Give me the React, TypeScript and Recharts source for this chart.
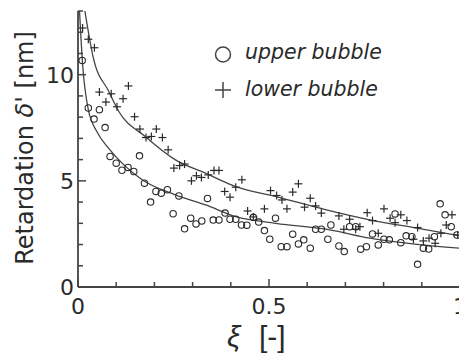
import { ComposedChart, Scatter, Line, XAxis, YAxis } from "recharts";

// upper bubble (circles)
const UPPER_XI = [
  0.011, 0.027, 0.042, 0.056, 0.071, 0.084, 0.1, 0.115, 0.131, 0.146, 0.161, 0.174, 0.19, 0.204, 0.218,
  0.234, 0.249, 0.264, 0.279, 0.295, 0.309, 0.324, 0.339, 0.354, 0.369, 0.385, 0.398, 0.413, 0.428,
  0.442, 0.459, 0.473, 0.488, 0.502, 0.517, 0.532, 0.547, 0.562, 0.577, 0.591, 0.608, 0.622, 0.637,
  0.654, 0.662, 0.683, 0.697, 0.711, 0.727, 0.74, 0.755, 0.771, 0.786, 0.801, 0.815, 0.83, 0.845,
  0.859, 0.874, 0.889, 0.904, 0.918, 0.933, 0.948, 0.961, 0.977, 0.992,
];
const UPPER_DELTA = [
  10.67, 8.43, 7.91, 8.35, 7.51, 6.15, 5.83, 5.5, 5.63, 5.44, 6.18, 4.89, 4.0, 4.5, 4.42,
  4.58, 3.45, 4.29, 2.74, 3.24, 2.97, 3.11, 4.17, 3.15, 3.16, 3.48, 3.19, 3.19, 2.92,
  2.91, 3.28, 3.06, 2.66, 2.25, 3.24, 1.9, 1.9, 2.49, 2.03, 2.22, 1.83, 2.72, 2.72,
  2.25, 2.92, 1.93, 1.67, 2.84, 2.84, 1.78, 1.9, 2.5, 1.98, 2.25, 2.22, 3.44, 2.09,
  2.41, 2.37, 1.07, 1.83, 1.79, 2.37, 3.92, 3.4, 2.84, 2.45,
];

// lower bubble (plus)
const LOWER_XI = [
  0.012, 0.027, 0.043, 0.056, 0.073, 0.087, 0.102, 0.118, 0.132, 0.148, 0.162, 0.178, 0.192, 0.205,
  0.221, 0.236, 0.251, 0.266, 0.279, 0.297, 0.31, 0.323, 0.341, 0.356, 0.369, 0.384, 0.398, 0.413,
  0.429, 0.444, 0.459, 0.488, 0.504, 0.52, 0.534, 0.547, 0.562, 0.577, 0.593, 0.608, 0.622, 0.637,
  0.683, 0.696, 0.711, 0.727, 0.738, 0.757, 0.771, 0.786, 0.801, 0.817, 0.83, 0.845, 0.861, 0.878,
  0.889, 0.904, 0.919, 0.935, 0.95, 0.964, 0.979, 0.994,
];
const LOWER_DELTA = [
  12.2, 11.67, 11.27, 9.18, 8.71, 9.1, 8.49, 8.87, 9.47, 8.02, 7.44, 7.04, 7.09, 7.44,
  7.04, 6.46, 5.6, 5.72, 5.79, 5.0, 5.24, 5.16, 5.28, 5.49, 5.49, 4.5, 4.23, 4.7,
  5.05, 3.58, 3.3, 3.68, 4.54, 4.31, 4.1, 3.68, 4.47, 4.86, 3.76, 4.18, 3.82, 3.48,
  3.35, 2.72, 3.19, 2.72, 2.84, 3.5, 3.13, 2.53, 3.68, 3.24, 3.03, 3.4, 3.13, 2.25,
  2.8, 2.17, 2.3, 2.06, 2.53, 2.92, 3.4, 2.45,
];

// fitted curves
const UPPER_FIT_XI = [0.004, 0.012, 0.027, 0.05, 0.08, 0.168, 0.255, 0.334, 0.413, 0.518, 0.659, 0.764, 0.887, 1.0];
const UPPER_FIT = [13.0, 10.5, 8.35, 7.3, 6.54, 5.05, 4.34, 3.87, 3.32, 3.0, 2.69, 2.3, 2.01, 1.83];
const LOWER_FIT_XI = [0.018, 0.04, 0.08, 0.106, 0.176, 0.255, 0.334, 0.413, 0.518, 0.65, 0.764, 0.887, 1.0];
const LOWER_FIT = [13.0, 10.8, 9.23, 8.29, 7.09, 5.99, 5.36, 4.73, 4.26, 3.63, 3.16, 2.77, 2.41];

const X_TICKS = [0, 0.1, 0.2, 0.3, 0.4, 0.5, 0.6, 0.7, 0.8, 0.9, 1];
const X_LABELS = [0, 0.5, 1];
const Y_TICKS = [0, 1, 2, 3, 4, 5, 6, 7, 8, 9, 10, 11, 12, 13];
const Y_LABELS = [0, 5, 10];

const INK = "#2a2a2a";
const AXIS = "#444";
const FONT = "'DejaVu Sans', sans-serif";

const zip = (xs: number[], ys: number[]) => xs.map((x, i) => ({ x, y: ys[i] }));
const isLabel = (v: number, labels: number[]) => labels.some((l) => Math.abs(l - v) < 1e-6);

function makeTick(side: "bottom" | "top" | "left" | "right", labels: number[], showText: boolean) {
  return (props: any) => {
    const { x, y, payload } = props;
    const v = payload.value;
    const major = isLabel(v, labels);
    const len = major ? 8 : 5;
    let x2 = x;
    let y2 = y;
    if (side === "bottom") y2 = y - len;
    if (side === "top") y2 = y + len;
    if (side === "left") x2 = x + len;
    if (side === "right") x2 = x - len;
    return (
      <g>
        <line x1={x} y1={y} x2={x2} y2={y2} stroke={AXIS} strokeWidth={1.5} />
        {showText && major && side === "bottom" && (
          <text x={x} y={y + 27} textAnchor="middle" fontSize={22} fontFamily={FONT} fill={INK}>
            {String(v)}
          </text>
        )}
        {showText && major && side === "left" && (
          <text x={x - 4} y={y + 8} textAnchor="end" fontSize={22} fontFamily={FONT} fill={INK}>
            {String(v)}
          </text>
        )}
      </g>
    );
  };
}

const Circle = (props: any) => {
  const { cx, cy } = props;
  return <circle cx={cx} cy={cy} r={3.2} fill="none" stroke={INK} strokeWidth={1.1} />;
};

const Plus = (props: any) => {
  const { cx, cy } = props;
  return (
    <g stroke={INK} strokeWidth={1.2}>
      <line x1={cx - 4} y1={cy} x2={cx + 4} y2={cy} />
      <line x1={cx} y1={cy - 4} x2={cx} y2={cy + 4} />
    </g>
  );
};

export default function App() {
  return (
    <div
      style={{
        position: "absolute",
        left: 0,
        top: 0,
        width: 459,
        height: 356,
        overflow: "hidden",
        background: "#fff",
      }}
    >
      <ComposedChart width={470} height={356} margin={{ top: 11, right: 10, left: 0, bottom: 0 }}>
        <XAxis
          type="number"
          dataKey="x"
          domain={[0, 1]}
          ticks={X_TICKS}
          height={69}
          tickSize={0}
          tickMargin={0}
          tickLine={false}
          axisLine={{ stroke: AXIS, strokeWidth: 1.8 }}
          tick={makeTick("bottom", X_LABELS, true)}
          interval={0}
        />
        <XAxis
          xAxisId="top"
          orientation="top"
          type="number"
          dataKey="x"
          domain={[0, 1]}
          ticks={X_TICKS}
          height={0}
          tickSize={0}
          tickMargin={0}
          tickLine={false}
          axisLine={{ stroke: AXIS, strokeWidth: 1.8 }}
          tick={makeTick("top", X_LABELS, false)}
          interval={0}
        />
        <YAxis
          type="number"
          domain={[0, 13]}
          ticks={Y_TICKS}
          width={78}
          allowDataOverflow
          tickSize={0}
          tickMargin={0}
          tickLine={false}
          axisLine={{ stroke: AXIS, strokeWidth: 1.8 }}
          tick={makeTick("left", Y_LABELS, true)}
          interval={0}
        />
        <YAxis
          yAxisId="right"
          orientation="right"
          type="number"
          domain={[0, 13]}
          ticks={Y_TICKS}
          width={0}
          tickSize={0}
          tickMargin={0}
          tickLine={false}
          axisLine={{ stroke: AXIS, strokeWidth: 1.8 }}
          tick={makeTick("right", Y_LABELS, false)}
          interval={0}
        />
        <Line
          data={zip(UPPER_FIT_XI, UPPER_FIT)}
          dataKey="y"
          type="monotone"
          stroke={AXIS}
          strokeWidth={1.3}
          dot={false}
          isAnimationActive={false}
        />
        <Line
          data={zip(LOWER_FIT_XI, LOWER_FIT)}
          dataKey="y"
          type="monotone"
          stroke={AXIS}
          strokeWidth={1.3}
          dot={false}
          isAnimationActive={false}
        />
        <Scatter data={zip(UPPER_XI, UPPER_DELTA)} dataKey="y" shape={Circle} isAnimationActive={false} />
        <Scatter data={zip(LOWER_XI, LOWER_DELTA)} dataKey="y" shape={Plus} isAnimationActive={false} />

        <text
          x={33}
          y={148}
          transform="rotate(-90, 33, 148)"
          textAnchor="middle"
          fontSize={24}
          fontFamily={FONT}
          fill={INK}
        >
          Retardation <tspan fontStyle="italic">δ</tspan>' [nm]
        </text>
        <text x={227} y={347} fontSize={30} fontFamily="'Liberation Sans', Arial, sans-serif" fill={INK}>
          <tspan fontStyle="italic">ξ</tspan>
          <tspan x={259}>[-]</tspan>
        </text>

        <circle cx={223} cy={54.5} r={7.5} fill="none" stroke={AXIS} strokeWidth={1.5} />
        <text x={245} y={59} fontSize={20.5} fontStyle="italic" fontFamily={FONT} fill={INK}>
          upper bubble
        </text>
        <g stroke={AXIS} strokeWidth={1.5}>
          <line x1={215} y1={90} x2={231} y2={90} />
          <line x1={223} y1={82} x2={223} y2={98} />
        </g>
        <text x={245} y={96} fontSize={20.5} fontStyle="italic" fontFamily={FONT} fill={INK}>
          lower bubble
        </text>
      </ComposedChart>
    </div>
  );
}
